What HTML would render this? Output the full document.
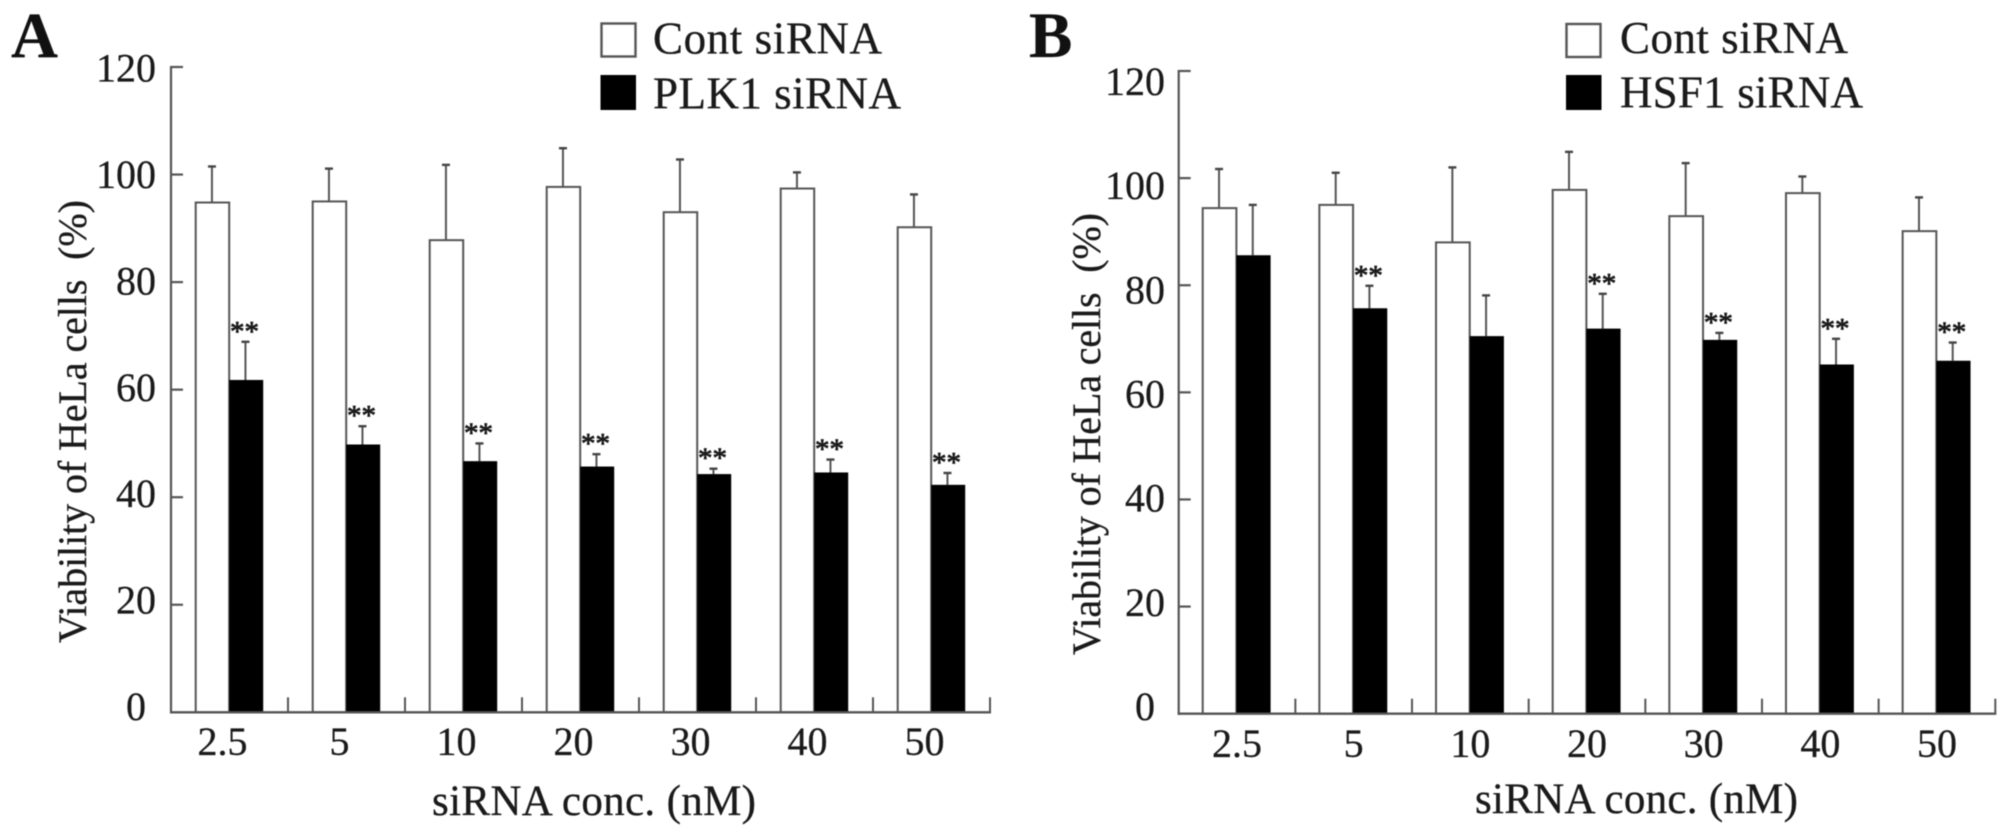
<!DOCTYPE html>
<html lang="en">
<head>
<meta charset="utf-8">
<title>Viability of HeLa cells after siRNA treatment</title>
<style>
html,body{margin:0;padding:0;background:#fff;width:2008px;height:837px;overflow:hidden}
svg{display:block;filter:blur(0.55px)}
text{font-family:"Liberation Serif",serif;fill:#1a1a1a;stroke:#1a1a1a;stroke-width:0.3px}
</style>
</head>
<body>
<svg id="figure" xmlns="http://www.w3.org/2000/svg" width="2008" height="837" viewBox="0 0 2008 837">
  <rect x="0" y="0" width="2008" height="837" fill="#fff"/>

  <text x="11" y="57" font-size="65" font-weight="bold" style="fill:#111">A</text>
  <text x="1029" y="57" font-size="65" font-weight="bold" style="fill:#111">B</text>

  <g>
    <rect x="601.5" y="23.5" width="34" height="33" fill="#fff" stroke="#555" stroke-width="2.4"/>
    <text x="653" y="53.5" font-size="45" textLength="229" lengthAdjust="spacing">Cont siRNA</text>
    <rect x="600.5" y="75" width="35.5" height="35" fill="#000"/>
    <text x="653" y="108.5" font-size="45" textLength="248" lengthAdjust="spacing">PLK1 siRNA</text>
  </g>
  <g>
    <rect x="1566.5" y="24" width="34" height="33" fill="#fff" stroke="#555" stroke-width="2.4"/>
    <text x="1620" y="53" font-size="45" textLength="228" lengthAdjust="spacing">Cont siRNA</text>
    <rect x="1566" y="75" width="35.5" height="35" fill="#000"/>
    <text x="1620" y="107.5" font-size="45" textLength="243" lengthAdjust="spacing">HSF1 siRNA</text>
  </g>

  <text transform="translate(86 643) rotate(-90)" font-size="40" textLength="443" lengthAdjust="spacing">Viability of HeLa cells&#160;&#160;(%)</text>
  <text transform="translate(1100 655) rotate(-90)" font-size="40" textLength="442" lengthAdjust="spacing">Viability of HeLa cells&#160;&#160;(%)</text>
  <text x="432" y="815" font-size="43" textLength="324" lengthAdjust="spacing">siRNA conc. (nM)</text>
  <text x="1475" y="813" font-size="43" textLength="323" lengthAdjust="spacing">siRNA conc. (nM)</text>

  <g id="panel-a"></g>
  <g id="panel-b"></g>
</svg>

<script>
var categories = ["2.5", "5", "10", "20", "30", "40", "50"];
var yTickValues = [0, 20, 40, 60, 80, 100, 120];

var contValuesA = [94.8, 95.0, 87.8, 97.7, 93.0, 97.4, 90.2];
var contErrorsA = [6.7, 6.1, 14.0, 7.2, 9.8, 3.0, 6.1];
var plk1ValuesA = [61.8, 49.8, 46.7, 45.7, 44.3, 44.6, 42.3];
var plk1ErrorsA = [7.1, 3.4, 3.3, 2.3, 1.0, 2.4, 2.2];
var plk1SignificantA = [true, true, true, true, true, true, true];

var contValuesB = [94.4, 95.0, 88.0, 97.8, 92.9, 97.2, 90.1];
var contErrorsB = [7.3, 6.0, 14.0, 7.1, 9.9, 3.1, 6.3];
var hsf1ValuesB = [85.6, 75.7, 70.5, 71.9, 69.8, 65.2, 65.9];
var hsf1ErrorsB = [9.4, 4.2, 7.6, 6.5, 1.3, 4.8, 3.4];
var hsf1SignificantB = [false, true, false, true, true, true, true];

var SVG_NS = "http://www.w3.org/2000/svg";
var AXIS_COLOR = "#555";

function make(parent, tag, props) {
  var el = document.createElementNS(SVG_NS, tag);
  for (var key in props) { el.setAttribute(key, props[key]); }
  parent.appendChild(el);
  return el;
}

function drawPanel(cfg) {
  var root = document.getElementById(cfg.id);
  var step = (cfg.xRight - cfg.xLeft) / categories.length;
  function yScale(v) { return cfg.yZero - v * (cfg.yZero - cfg.yMax) / 120; }
  function groupX(i) { return cfg.xLeft + step * i; }

  // white (control) bars
  cfg.cont.forEach(function (v, i) {
    var left = groupX(i) + cfg.barOffset;
    var cx = left + cfg.barWidth / 2 - 0.5;
    var top = yScale(v + cfg.contErr[i]);
    var eb = make(root, "line", {x1: cx, x2: cx, y1: yScale(v), y2: top, stroke: AXIS_COLOR, "stroke-width": 2});
    
    
    var cap = make(root, "line", {x1: cx - 4, x2: cx + 4, y1: top, y2: top, stroke: "#444", "stroke-width": 2.4});
    
    
    var bar = make(root, "rect", {x: left, y: yScale(v), width: cfg.barWidth, height: yScale(0) - yScale(v), fill: "#fff", stroke: AXIS_COLOR, "stroke-width": 2});
    
    
  });

  // black (knockdown) bars
  cfg.treat.forEach(function (v, i) {
    var left = groupX(i) + cfg.barOffset + cfg.barWidth;
    var cx = left + cfg.barWidth / 2 - 0.5;
    var top = yScale(v + cfg.treatErr[i]);
    var eb = make(root, "line", {x1: cx, x2: cx, y1: yScale(v), y2: top, stroke: AXIS_COLOR, "stroke-width": 2});
    
    
    var cap = make(root, "line", {x1: cx - 4, x2: cx + 4, y1: top, y2: top, stroke: "#444", "stroke-width": 2.4});
    
    
    var bar = make(root, "rect", {x: left, y: yScale(v), width: cfg.barWidth + 0.5, height: yScale(0) - yScale(v), fill: "#000"});
    
    
    if (cfg.significant[i]) {
      var star = make(root, "text", {x: cx - 1, y: top - 1, "font-size": 29, "text-anchor": "middle", style: "stroke-width:0.8px"});
      
      
      star.textContent = "**";
    }
  });

  // axes
  var yAxis = make(root, "line", {x1: cfg.xLeft, x2: cfg.xLeft, y1: yScale(120) - 1, y2: yScale(0) + 1, stroke: AXIS_COLOR, "stroke-width": 2.2});
  
  
  var xAxis = make(root, "line", {x1: cfg.xLeft - 1, x2: cfg.xRight + 1, y1: yScale(0), y2: yScale(0), stroke: AXIS_COLOR, "stroke-width": 2.4});
  
  

  yTickValues.forEach(function (t) {
    if (t > 0) {
      var tick = make(root, "line", {x1: cfg.xLeft, x2: cfg.xLeft + 12, y1: yScale(t), y2: yScale(t), stroke: AXIS_COLOR, "stroke-width": 2.2});
      
      
    }
    var label = make(root, "text", {
      x: cfg.yLabelRight - (t === 0 ? 10 : 0),
      y: cfg.yLabelBase - t * cfg.yLabelStep,
      "font-size": 40,
      "text-anchor": "end"
    });
    
    
    label.textContent = String(t);
  });

  categories.forEach(function (c, i) {
    var tick = make(root, "line", {x1: groupX(i + 1), x2: groupX(i + 1), y1: yScale(0), y2: yScale(0) - 15, stroke: AXIS_COLOR, "stroke-width": 2});
    
    
    var label = make(root, "text", {
      x: groupX(i) + step / 2 + cfg.xLabelShift,
      y: cfg.xLabelY,
      "font-size": 40,
      "text-anchor": "middle"
    });
    
    
    label.textContent = c;
  });
}

drawPanel({
  id: "panel-a", xLeft: 171, xRight: 990, yZero: 712.3, yMax: 67,
  barOffset: 24.7, barWidth: 33.5, yLabelRight: 156, yLabelBase: 720, yLabelStep: 5.32,
  xLabelShift: -7, xLabelY: 755,
  cont: contValuesA, contErr: contErrorsA, treat: plk1ValuesA, treatErr: plk1ErrorsA, significant: plk1SignificantA
});
drawPanel({
  id: "panel-b", xLeft: 1178.7, xRight: 1995.3, yZero: 713.7, yMax: 71,
  barOffset: 24, barWidth: 33.7, yLabelRight: 1165, yLabelBase: 720, yLabelStep: 5.208,
  xLabelShift: 0, xLabelY: 757,
  cont: contValuesB, contErr: contErrorsB, treat: hsf1ValuesB, treatErr: hsf1ErrorsB, significant: hsf1SignificantB
});
</script>
</body>
</html>
